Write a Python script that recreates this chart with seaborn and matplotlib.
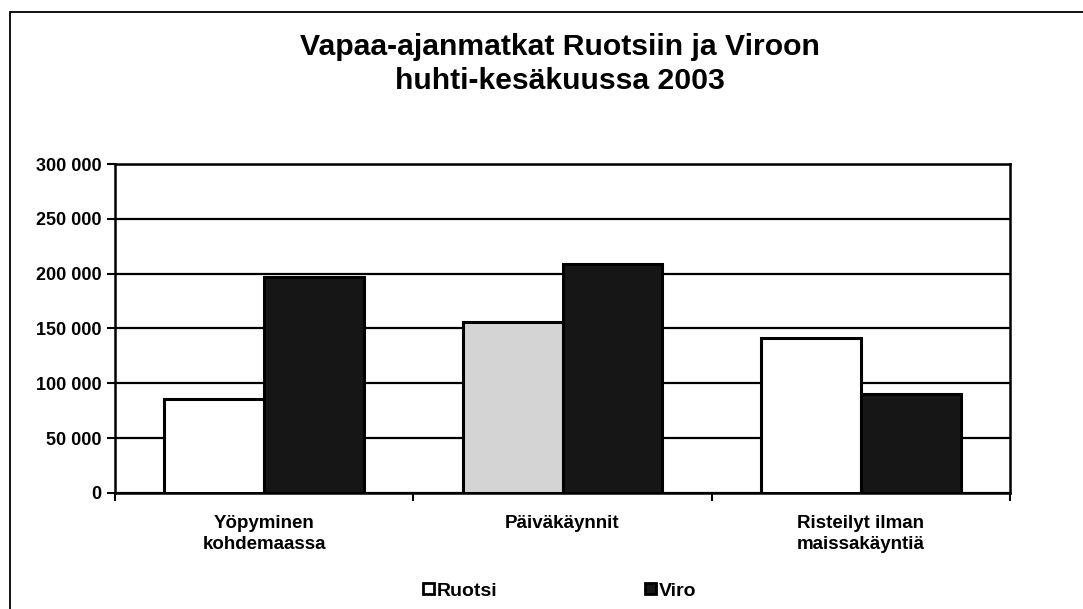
import pandas as pd
import matplotlib.pyplot as plt
import matplotlib.ticker as mticker
from matplotlib.patches import Rectangle
import seaborn as sns

# values
kategoriat = ['Yöpyminen\nkohdemaassa', 'Päiväkäynnit', 'Risteilyt ilman\nmaissakäyntiä']
ruotsi = [85500, 155500, 141000]
viro = [197000, 208500, 90000]
maat = ['Ruotsi', 'Viro']
y_ticks = [0, 50000, 100000, 150000, 200000, 250000, 300000]

df = pd.DataFrame({
    'kategoria': kategoriat * 2,
    'maa': ['Ruotsi'] * 3 + ['Viro'] * 3,
    'matkat': ruotsi + viro,
})

sns.set_style('white')
plt.rcParams['font.family'] = ['Liberation Sans', 'DejaVu Sans']
plt.rcParams['font.weight'] = 'bold'
plt.rcParams['text.color'] = 'black'
plt.rcParams['xtick.labelcolor'] = 'black'
plt.rcParams['ytick.labelcolor'] = 'black'

fig, ax = plt.subplots(figsize=(10.83, 6.09), dpi=100)
fig.subplots_adjust(left=0.1062, right=0.9326, bottom=0.1905, top=0.7307)

sns.barplot(data=df, x='kategoria', y='matkat', hue='maa', hue_order=maat,
            palette={'Ruotsi': 'white', 'Viro': '#161616'},
            edgecolor='black', linewidth=2.2, width=0.67, ax=ax)

# the scanned Päiväkäynnit/Ruotsi bar is speckled grey
ax.patches[1].set_facecolor('#d4d4d4')

ax.set_ylim(0, 300000)
ax.set_xlim(-0.5, 2.5)
ax.set_yticks(y_ticks)
ax.yaxis.set_major_formatter(mticker.FuncFormatter(lambda v, p: f'{int(v):,}'.replace(',', ' ')))
ax.set_xlabel('')
ax.set_ylabel('')

ax.yaxis.grid(True, color='black', linewidth=1.6)
ax.set_axisbelow(True)
for s in ax.spines.values():
    s.set_color('black')
    s.set_linewidth(1.8)

ax.tick_params(axis='y', direction='out', length=6, width=1.5, color='black',
               labelsize=13, pad=4, left=True)
ax.tick_params(axis='x', which='major', length=0, labelsize=13.5, pad=16)
ax.set_xticks([-0.5, 0.5, 1.5, 2.5], minor=True)
ax.tick_params(axis='x', which='minor', direction='out', length=6, width=1.5,
               color='black', bottom=True)
for t in ax.get_xticklabels():
    t.set_linespacing(1.3)

# legend below the plot
handles, labels = ax.get_legend_handles_labels()
ax.get_legend().remove()
leg = fig.legend(handles, labels, loc='center', bbox_to_anchor=(560 / 1083, 1 - 591 / 609),
                 ncol=2, frameon=False, fontsize=14, handlelength=0.55, handleheight=0.55,
                 handletextpad=0.15, columnspacing=7.6)
for h in leg.legend_handles:
    h.set_linewidth(2)

fig.text(560 / 1083, 1 - 64 / 609,
         'Vapaa-ajanmatkat Ruotsiin ja Viroon\nhuhti-kesäkuussa 2003',
         ha='center', va='center', fontsize=21.7, fontweight='bold', linespacing=1.25)

# outer chart frame
fig.add_artist(Rectangle((10 / 1083, -0.05), 1.1, 1 - 12 / 609 + 0.05, fill=False,
                         edgecolor='black', linewidth=1.3, transform=fig.transFigure,
                         clip_on=False))

fig.savefig('out.png', dpi=100)
